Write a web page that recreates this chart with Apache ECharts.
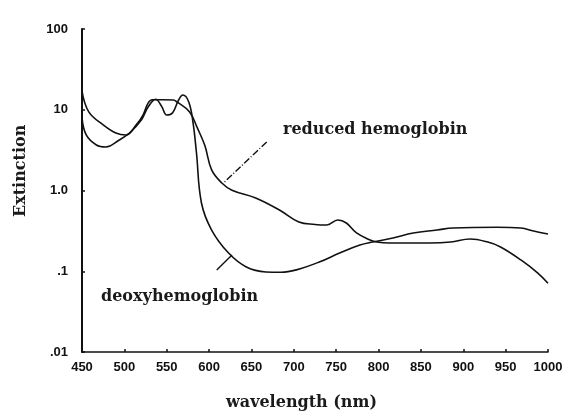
<!DOCTYPE html>
<html>
<head>
<meta charset="utf-8">
<script src="https://cdn.jsdelivr.net/npm/echarts@6/dist/echarts.min.js"></script>
<style>
  html, body { margin: 0; padding: 0; background: #fff; }
  #chart { width: 568px; height: 415px; }
</style>
</head>
<body>
<div id="chart"></div>
<script>
// Absorption spectra of hemoglobin (wavelength in nm, extinction on a log scale)
const wavelengthTicks = [450, 500, 550, 600, 650, 700, 750, 800, 850, 900, 950, 1000];
const extinctionTicks = [0.01, 0.1, 1, 10, 100];
const extinctionTickLabels = ['.01', '.1', '1.0', '10', '100'];

// Curve with the 760 nm bump, pointed at by "reduced hemoglobin"
const reducedNm = [450, 458, 475, 490, 502, 514, 522, 528, 533, 545, 558, 562, 577, 586, 595, 603, 615, 627, 655, 683, 706, 725, 739, 752, 762, 774, 790, 798, 813, 860, 885, 908, 929, 944, 968, 988, 1000];
const reducedExt = [17, 9.4, 6.5, 5.15, 4.87, 6.5, 8.6, 12.1, 13.3, 13.3, 13.2, 12.5, 9.4, 6.0, 3.6, 1.8, 1.24, 1.01, 0.81, 0.574, 0.407, 0.38, 0.374, 0.431, 0.396, 0.298, 0.244, 0.23, 0.224, 0.224, 0.23, 0.251, 0.23, 0.20, 0.138, 0.095, 0.071];

// Curve with the double visible peak, pointed at by "deoxyhemoglobin"
const deoxyNm = [450, 455, 467, 478, 494, 506, 520, 528, 537, 544, 550, 557, 564, 569, 576, 581, 585, 591, 603, 623, 644, 667, 685, 703, 730, 754, 778, 793, 817, 841, 869, 888, 940, 968, 983, 1000];
const deoxyExt = [8, 4.87, 3.66, 3.46, 4.22, 5.15, 7.46, 10.8, 13.5, 11, 8.6, 9.2, 13.2, 15.2, 12.5, 7, 3.0, 0.70, 0.324, 0.168, 0.113, 0.098, 0.097, 0.104, 0.130, 0.168, 0.211, 0.230, 0.258, 0.298, 0.324, 0.343, 0.35, 0.343, 0.315, 0.289];

// Leader lines from the two labels to their curves ([nm, extinction] pairs)
const reducedLeader = [[668, 3.99], [617, 1.24]];
const deoxyLeader = [[609, 0.1035], [627, 0.159]];

const pairs = (xs, ys) => xs.map((x, i) => [x, ys[i]]);

const serif = 'DejaVu Serif';
const tickFont = { fontFamily: 'Liberation Sans', fontWeight: 'bold', fontSize: 13, color: '#111' };

const chart = echarts.init(document.getElementById('chart'), null, { renderer: 'canvas' });

chart.setOption({
  backgroundColor: '#ffffff',
  animation: false,
  grid: { left: 82, right: 20, top: 29, bottom: 63 },
  xAxis: {
    type: 'value',
    min: 450,
    max: 1000,
    interval: 50,
    axisLine: { lineStyle: { color: '#111', width: 1.5 } },
    axisTick: { inside: true, length: 3, lineStyle: { color: '#111', width: 1.5 } },
    splitLine: { show: false },
    axisLabel: Object.assign({ margin: 9, formatter: v => wavelengthTicks.includes(v) ? String(v) : '' }, tickFont)
  },
  yAxis: {
    type: 'log',
    logBase: 10,
    min: 0.01,
    max: 100,
    axisLine: { show: true, lineStyle: { color: '#111', width: 2 } },
    axisTick: { show: true, inside: true, length: 3, lineStyle: { color: '#111', width: 1.5 } },
    splitLine: { show: false },
    axisLabel: Object.assign({
      margin: 14,
      formatter: v => {
        const i = extinctionTicks.findIndex(t => Math.abs(Math.log10(t) - Math.log10(v)) < 1e-6);
        return i >= 0 ? extinctionTickLabels[i] : '';
      }
    }, tickFont)
  },
  graphic: [
    { type: 'text', left: 283, top: 122, style: { text: 'reduced hemoglobin', font: 'bold 16px "' + serif + '"', fill: '#1a1a1a' } },
    { type: 'text', left: 101, top: 289, style: { text: 'deoxyhemoglobin', font: 'bold 16px "' + serif + '"', fill: '#1a1a1a' } },
    { type: 'text', left: 226, top: 395, style: { text: 'wavelength (nm)', font: 'bold 16px "' + serif + '"', fill: '#1a1a1a' } },
    { type: 'text', x: 13, y: 217, rotation: Math.PI / 2, style: { text: 'Extinction', font: 'bold 16px "' + serif + '"', fill: '#1a1a1a' } }
  ],
  series: [
    {
      name: 'reduced hemoglobin',
      type: 'line',
      data: pairs(reducedNm, reducedExt),
      smooth: 0.4,
      showSymbol: false,
      lineStyle: { color: '#111', width: 1.6 },
      markLine: {
        silent: true,
        symbol: 'none',
        label: { show: false },
        lineStyle: { color: '#111', width: 1.4, type: [7, 2, 1, 2] },
        data: [[{ coord: reducedLeader[0] }, { coord: reducedLeader[1] }]]
      }
    },
    {
      name: 'deoxyhemoglobin',
      type: 'line',
      data: pairs(deoxyNm, deoxyExt),
      smooth: 0.4,
      showSymbol: false,
      lineStyle: { color: '#111', width: 1.6 },
      markLine: {
        silent: true,
        symbol: 'none',
        label: { show: false },
        lineStyle: { color: '#111', width: 1.4, type: 'solid' },
        data: [[{ coord: deoxyLeader[0] }, { coord: deoxyLeader[1] }]]
      }
    }
  ]
});
</script>
</body>
</html>
